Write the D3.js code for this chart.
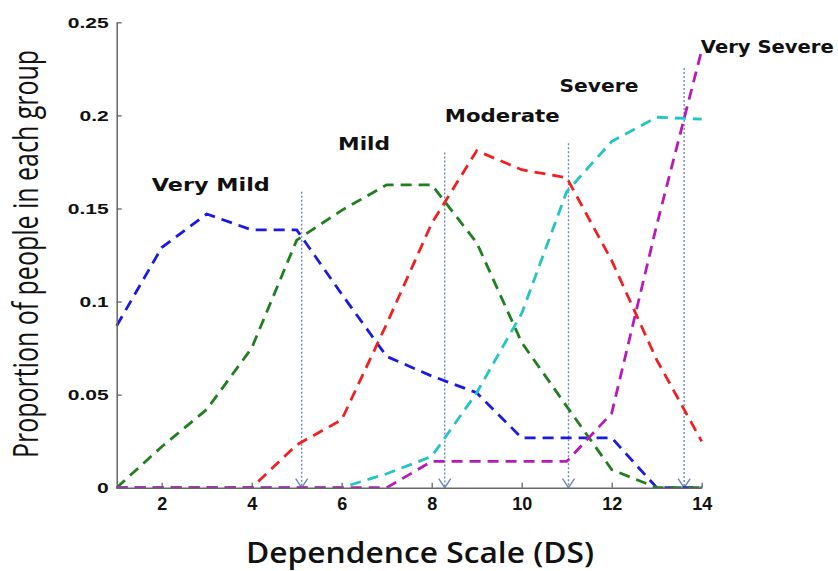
<!DOCTYPE html>
<html><head><meta charset="utf-8">
<script src="https://cdn.jsdelivr.net/npm/d3@7"></script>
<style>body{margin:0;background:#fff}svg{display:block}</style>
</head><body><svg id="c" width="838" height="571"></svg>
<script>
const ds = [1,2,3,4,5,6,7,8,9,10,11,12,13,14];
const veryMild   = [0.087,0.129,0.147,0.1385,0.1385,0.104,0.0705,0.060,0.051,0.0268,0.0268,0.0268,0,0];
const mild       = [0,0.022,0.042,0.075,0.133,0.149,0.1627,0.1627,0.1316,0.078,0.0437,0.0097,0,0];
const moderate   = [0,0,0,0,0.023,0.0365,0.088,0.142,0.181,0.1708,0.1665,0.122,0.0687,0.0249];
const severe     = [0,0,0,0,0,0,0.0075,0.0168,0.051,0.0936,0.159,0.186,0.199,0.198];
const verySevere = [0,0,0,0,0,0,0,0.0141,0.0141,0.0141,0.0141,0.040,0.141,0.235];
const seriesNames = ["Very Mild","Mild","Moderate","Severe","Very Severe"];
const seriesColors = ["#1a1ae0","#1f7f1f","#f02020","#22c4c4","#b81ab8"];
const cutX = [5.11, 8.29, 11.04, 13.61];
const cutTop = [0.159, 0.18, 0.185, 0.2255];
const labelPos = [[1.78,0.1596],[5.92,0.1814],[8.29,0.1966],[10.84,0.2127],[13.98,0.2334]];
const labelWidth = [118,52,115,79,133];
const xTicks = [2,4,6,8,10,12,14];
const yTicks = [0,0.05,0.1,0.15,0.2,0.25];
const yTickLabels = ["0","0.05","0.1","0.15","0.2","0.25"];

const svg = d3.select("#c");
const x = d3.scaleLinear().domain([1,14]).range([116.7,701.7]);
const y = d3.scaleLinear().domain([0,0.25]).range([487.7,22.3]);
const all = [veryMild, mild, moderate, severe, verySevere];
const cutColor = "#6a88bb";

// cut lines with arrow heads
cutX.forEach((c,i)=>{
  svg.append("line").attr("x1",x(c)).attr("x2",x(c)).attr("y1",y(cutTop[i])).attr("y2",y(0))
    .attr("stroke",cutColor).attr("stroke-width",1.4).attr("stroke-dasharray","2,2");
  svg.append("path")
    .attr("d",`M${x(c)-6},${y(0)-9} L${x(c)},${y(0)} L${x(c)+6},${y(0)-9}`)
    .attr("fill","none").attr("stroke",cutColor).attr("stroke-width",1.4);
});

// series
const line = d3.line().x((d,i)=>x(ds[i])).y(d=>y(d));
all.forEach((s,i)=>{
  svg.append("path").datum(s).attr("d",line).attr("fill","none")
    .attr("stroke",seriesColors[i]).attr("stroke-width",2.8)
    .attr("stroke-dasharray","11,7");
});

// axes
const xAxis = d3.axisBottom(x).tickValues(xTicks).tickSizeInner(-5).tickSizeOuter(0);
const yAxis = d3.axisLeft(y).tickValues(yTicks).tickFormat((d,i)=>yTickLabels[i]).tickSizeInner(-5).tickSizeOuter(0).tickPadding(8);
const gx = svg.append("g").attr("transform",`translate(0,${y(0)})`).call(xAxis);
const gy = svg.append("g").attr("transform",`translate(${x(1)},0)`).call(yAxis);
[gx,gy].forEach(g=>{
  g.select(".domain").attr("stroke","#666").attr("stroke-width",1.5);
  g.selectAll(".tick line").attr("stroke","#666").attr("stroke-width",1.3);
  g.selectAll("text").attr("font-family","Arial, 'Liberation Sans', sans-serif").attr("font-weight","bold").attr("fill","#111");
});
gx.selectAll("text").attr("font-size",18).attr("y",22.3).attr("dy",0);
gy.selectAll("text").attr("font-size",14.5).attr("dy","0.36em").each(function(){
  const w = this.getComputedTextLength();
  d3.select(this).attr("textLength", w*1.45).attr("lengthAdjust","spacingAndGlyphs");
});

// series labels
seriesNames.forEach((n,i)=>{
  svg.append("text").attr("x",x(labelPos[i][0])).attr("y",y(labelPos[i][1]))
    .attr("font-family","'DejaVu Sans', Verdana, sans-serif").attr("font-weight","bold")
    .attr("font-size",17.5).attr("fill","#111")
    .attr("textLength",labelWidth[i]).attr("lengthAdjust","spacingAndGlyphs").text(n);
});

// axis titles
svg.append("text").attr("x",420).attr("y",563).attr("text-anchor","middle")
  .attr("font-family","'Open Sans', sans-serif").attr("font-weight","600").attr("font-size",29)
  .attr("textLength",348).attr("lengthAdjust","spacingAndGlyphs")
  .attr("fill","#111").text("Dependence Scale (DS)");
svg.append("text").attr("transform","translate(38,254) scale(1.5,1) rotate(-90)").attr("text-anchor","middle")
  .attr("font-family","'Open Sans', sans-serif").attr("font-size",23)
  .attr("textLength",408).attr("lengthAdjust","spacingAndGlyphs")
  .attr("fill","#111").text("Proportion of people in each group");
</script></body></html>
